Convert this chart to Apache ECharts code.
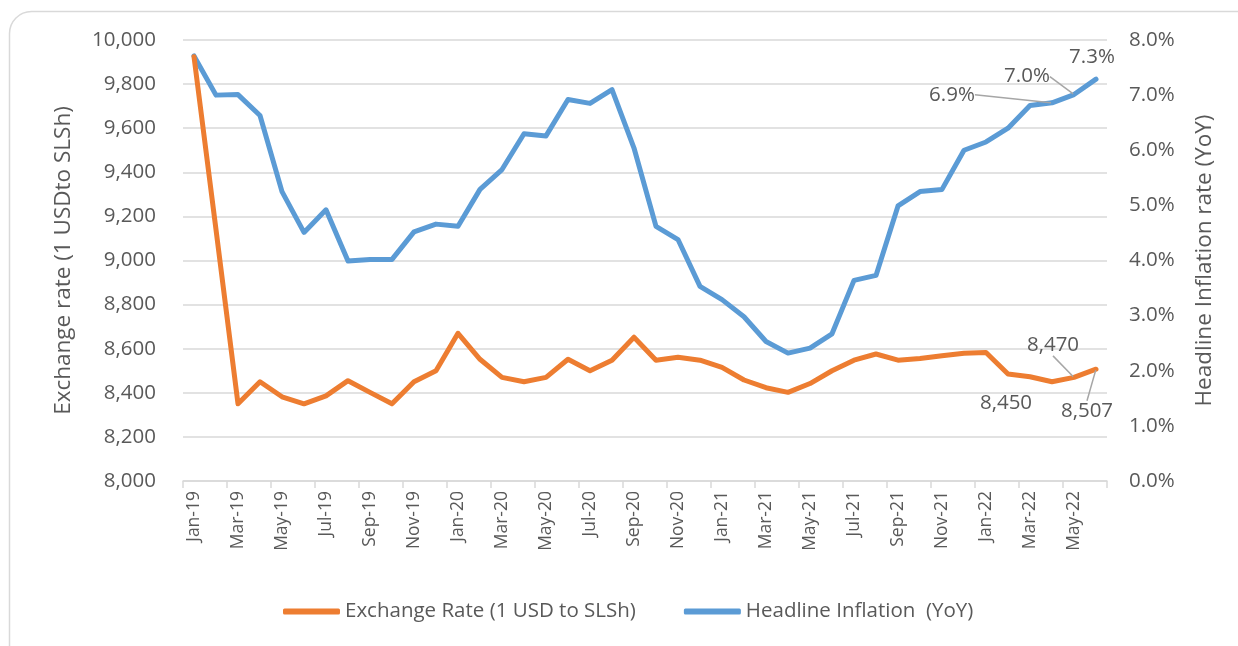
<!DOCTYPE html>
<html>
<head>
<meta charset="utf-8">
<script src="https://cdn.jsdelivr.net/npm/echarts@6/dist/echarts.min.js"></script>
<style>html,body{margin:0;padding:0;background:#fff;}#c{width:1238px;height:646px;}</style>
</head>
<body>
<div id="c"></div>
<script>
const months = ['Jan-19','Feb-19','Mar-19','Apr-19','May-19','Jun-19','Jul-19','Aug-19','Sep-19','Oct-19','Nov-19','Dec-19',
 'Jan-20','Feb-20','Mar-20','Apr-20','May-20','Jun-20','Jul-20','Aug-20','Sep-20','Oct-20','Nov-20','Dec-20',
 'Jan-21','Feb-21','Mar-21','Apr-21','May-21','Jun-21','Jul-21','Aug-21','Sep-21','Oct-21','Nov-21','Dec-21',
 'Jan-22','Feb-22','Mar-22','Apr-22','May-22','Jun-22'];
const exchangeRate = [9924,9140,8350,8450,8382,8350,8386,8455,8402,8350,8450,8500,
 8670,8552,8470,8450,8470,8552,8500,8548,8652,8548,8561,8548,
 8515,8458,8423,8402,8442,8500,8548,8576,8548,8556,8568,8579,
 8583,8485,8473,8450,8470,8507];
const inflation = [7.71,7.00,7.01,6.63,5.25,4.51,4.92,3.99,4.02,4.02,4.52,4.66,
 4.62,5.29,5.65,6.30,6.26,6.92,6.85,7.10,6.04,4.62,4.38,3.53,
 3.29,2.98,2.53,2.32,2.41,2.67,3.64,3.73,4.99,5.25,5.29,6.00,
 6.15,6.40,6.81,6.86,7.01,7.29];
const leftTicks = {min: 8000, max: 10000, step: 200};
const rightTicks = {min: 0, max: 8, step: 1};
const labeledIdx = [39, 40, 41];
const seriesNames = ['Exchange Rate (1 USD to SLSh)', 'Headline Inflation  (YoY)'];
const axisNames = ['Exchange rate (1 USDto SLSh)', 'Headline Inflation rate (YoY)'];

const FONT = 'Open Sans';
const TXT = '#595959';
const ORANGE = '#ED7D31';
const BLUE = '#5B9BD5';

// label offsets (style) keyed by series then labeled index
const labelShift = {
  0: {39: [-46, 21, false], 40: [-21, -32, true], 41: [-9, 42, true]},
  1: {39: [-100, -8, true], 40: [-47, -18, true], 41: [-4, -22, false]}
};

function mk(values, si, fmt) {
  return values.map((v, i) => {
    if (labeledIdx.indexOf(i) >= 0) {
      return {value: v, label: {show: true, formatter: fmt(v)}, labelLine: {show: labelShift[si][i][2]}};
    }
    return v;
  });
}
const fmtNum = v => v.toLocaleString('en-US');
const fmtPct = v => v.toFixed(1) + '%';

const chart = echarts.init(document.getElementById('c'));
chart.setOption({
  animation: false,
  backgroundColor: '#fff',
  textStyle: {fontFamily: FONT, color: TXT},
  graphic: [{
    type: 'rect', silent: true, z: -1,
    shape: {x: 9.5, y: 11.5, width: 1260, height: 660, r: 22},
    style: {fill: 'none', stroke: '#d9d9d9', lineWidth: 1.5}
  }],
  grid: {left: 183, right: 131, top: 40, bottom: 165, containLabel: false},
  legend: {
    left: 278, top: 596,
    itemWidth: 57, itemHeight: 6, itemGap: 48,
    icon: 'roundRect',
    textStyle: {fontFamily: FONT, fontSize: 20.5, color: TXT},
    data: seriesNames
  },
  xAxis: {
    type: 'category', data: months, boundaryGap: true,
    axisLine: {lineStyle: {color: '#d9d9d9', width: 1.5}},
    axisTick: {show: true, interval: 1, length: 7, lineStyle: {color: '#d9d9d9', width: 1.5}},
    axisLabel: {interval: 1, rotate: 90, margin: 10, fontFamily: FONT, fontSize: 17.5, color: TXT}
  },
  yAxis: [{
    type: 'value', min: leftTicks.min, max: leftTicks.max, interval: leftTicks.step,
    name: axisNames[0], nameLocation: 'middle', nameGap: 108, nameRotate: 90,
    nameTextStyle: {fontFamily: FONT, fontSize: 22.5, color: TXT},
    axisLine: {show: false}, axisTick: {show: false},
    axisLabel: {margin: 27, fontFamily: FONT, fontSize: 20.5, color: TXT, formatter: v => v.toLocaleString('en-US')},
    splitLine: {lineStyle: {color: '#d9d9d9', width: 1.5}}
  }, {
    type: 'value', min: rightTicks.min, max: rightTicks.max, interval: rightTicks.step,
    name: axisNames[1], nameLocation: 'middle', nameGap: 86, nameRotate: 90,
    nameTextStyle: {fontFamily: FONT, fontSize: 22.5, color: TXT},
    axisLine: {show: false}, axisTick: {show: false},
    axisLabel: {margin: 22, fontFamily: FONT, fontSize: 20.5, color: TXT, formatter: v => v.toFixed(1) + '%'},
    splitLine: {show: false}
  }],
  series: [{
    name: seriesNames[0], type: 'line', yAxisIndex: 0,
    data: mk(exchangeRate, 0, fmtNum),
    symbol: 'circle', symbolSize: 2, showSymbol: true,
    lineStyle: {color: ORANGE, width: 5, cap: 'round', join: 'round'},
    itemStyle: {color: ORANGE},
    label: {show: false, position: 'inside', fontFamily: FONT, fontSize: 20.5, color: TXT},
    labelLine: {show: false, lineStyle: {color: '#a6a6a6', width: 1.5}},
    labelLayout: p => { const s = labelShift[0][p.dataIndex]; return s ? {dx: s[0], dy: s[1]} : {}; },
    z: 3
  }, {
    name: seriesNames[1], type: 'line', yAxisIndex: 1,
    data: mk(inflation, 1, fmtPct),
    symbol: 'circle', symbolSize: 2, showSymbol: true,
    lineStyle: {color: BLUE, width: 5, cap: 'round', join: 'round'},
    itemStyle: {color: BLUE},
    label: {show: false, position: 'inside', fontFamily: FONT, fontSize: 20.5, color: TXT},
    labelLine: {show: false, lineStyle: {color: '#a6a6a6', width: 1.5}},
    labelLayout: p => { const s = labelShift[1][p.dataIndex]; return s ? {dx: s[0], dy: s[1]} : {}; },
    z: 2
  }]
});
</script>
</body>
</html>
